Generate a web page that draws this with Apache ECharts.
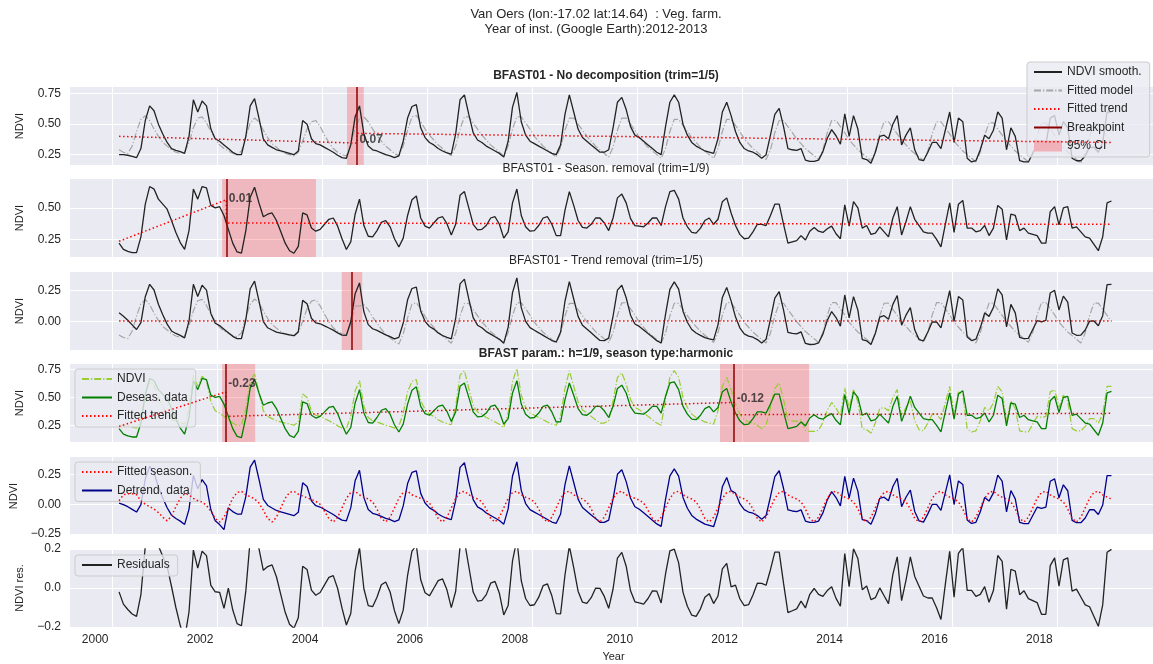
<!DOCTYPE html>
<html><head><meta charset="utf-8">
<script src="https://cdn.jsdelivr.net/npm/echarts@6/dist/echarts.min.js"></script>
<style>html,body{margin:0;padding:0;background:#fff}#c{width:1153px;height:664px}</style>
</head><body><div id="c"></div>
<script>
// ---------------- DATA ----------------
// monthly samples, first = Feb 2000 (mid-month), last = Jan 2019
const firstSample = 2000 + 1.5 / 12;
const ndvi = [
0.25,0.25,0.245,0.235,0.225,0.30,0.53,0.65,0.61,0.50,0.42,
0.35,0.30,0.285,0.275,0.26,0.40,0.70,0.60,0.69,0.65,0.46,0.38,
0.36,0.33,0.30,0.27,0.25,0.25,0.40,0.65,0.71,0.55,0.38,0.33,
0.31,0.29,0.28,0.27,0.26,0.25,0.28,0.53,0.50,0.38,0.34,0.33,
0.31,0.29,0.27,0.245,0.225,0.22,0.33,0.56,0.65,0.42,0.32,0.29,
0.28,0.265,0.25,0.24,0.225,0.24,0.36,0.55,0.645,0.66,0.47,0.39,
0.35,0.33,0.30,0.28,0.265,0.255,0.42,0.70,0.74,0.58,0.43,0.37,
0.35,0.32,0.30,0.28,0.26,0.23,0.36,0.64,0.76,0.52,0.41,0.36,
0.34,0.32,0.30,0.28,0.26,0.25,0.33,0.58,0.74,0.60,0.46,0.39,
0.36,0.33,0.30,0.27,0.27,0.29,0.47,0.68,0.72,0.62,0.48,0.41,
0.39,0.36,0.33,0.30,0.27,0.25,0.48,0.68,0.74,0.68,0.50,0.41,
0.35,0.32,0.30,0.28,0.27,0.26,0.38,0.60,0.68,0.57,0.44,0.35,
0.30,0.28,0.27,0.25,0.22,0.25,0.41,0.58,0.63,0.48,0.30,0.29,
0.285,0.30,0.205,0.195,0.195,0.205,0.275,0.385,0.455,0.405,0.335,0.585,
0.40,0.57,0.46,0.22,0.21,0.18,0.27,0.40,0.41,0.38,0.50,0.57,
0.33,0.41,0.47,0.29,0.21,0.20,0.27,0.35,0.35,0.30,0.45,0.60,
0.35,0.55,0.52,0.22,0.19,0.20,0.29,0.41,0.38,0.45,0.60,0.55,
0.29,0.47,0.40,0.20,0.19,0.19,0.26,0.33,0.32,0.33,0.55,0.57,
0.41,0.52,0.47,0.22,0.20,0.20,0.24,0.31,0.31,0.27,0.35,0.60,
0.60];
const fittedSeason = [
0.03,0.08,0.09,0.09,0.08,0.03,0.0,-0.02,-0.04,-0.07,-0.11,
-0.14,-0.10,-0.02,0.05,0.09,0.08,0.05,0.03,0.02,-0.01,-0.06,-0.12,
-0.15,-0.11,-0.03,0.05,0.10,0.11,0.08,0.065,0.045,0.01,-0.05,-0.12,
-0.15,-0.11,-0.03,0.05,0.10,0.11,0.085,0.07,0.055,0.04,0.025,0.0,
-0.06,-0.12,-0.15,-0.11,-0.03,0.05,0.10,0.11,0.08,0.06,0.045,0.02,
-0.04,-0.12,-0.15,-0.11,-0.03,0.05,0.10,0.11,0.08,0.065,0.05,0.035,
0.01,-0.05,-0.12,-0.15,-0.11,-0.03,0.05,0.10,0.11,0.08,0.06,0.045,
0.02,-0.04,-0.12,-0.15,-0.11,-0.03,0.05,0.10,0.11,0.08,0.06,0.045,
0.02,-0.04,-0.12,-0.15,-0.11,-0.03,0.05,0.10,0.11,0.08,0.06,0.045,
0.02,-0.04,-0.12,-0.15,-0.11,-0.03,0.05,0.10,0.11,0.08,0.065,0.05,
0.035,0.01,-0.05,-0.12,-0.15,-0.11,-0.03,0.05,0.10,0.11,0.08,0.06,
0.045,0.02,-0.04,-0.12,-0.15,-0.11,-0.03,0.05,0.10,0.11,0.08,0.06,
0.045,0.02,-0.04,-0.12,-0.15,-0.11,-0.03,0.05,0.10,0.11,0.08,0.06,
0.045,0.02,-0.04,-0.12,-0.15,-0.11,-0.03,0.05,0.10,0.11,0.08,0.06,
0.045,0.02,-0.04,-0.12,-0.15,-0.11,-0.03,0.05,0.10,0.11,0.08,0.06,
0.045,0.02,-0.04,-0.12,-0.15,-0.11,-0.03,0.05,0.10,0.11,0.08,0.06,
0.045,0.02,-0.04,-0.12,-0.15,-0.11,-0.03,0.05,0.10,0.11,0.08,0.06,
0.045,0.02,-0.04,-0.12,-0.15,-0.11,-0.03,0.05,0.10,0.11,0.08,0.06,
0.045,0.02,-0.04,-0.12,-0.15,-0.11,-0.03,0.05,0.10,0.11,0.08,0.06,
0.045];
const fittedModel = [
0.29,0.27,0.26,0.32,0.44,0.54,0.57,0.53,0.46,0.40,0.35,
0.32,0.29,0.27,0.26,0.27,0.35,0.47,0.55,0.56,0.51,0.44,0.38,
0.33,0.30,0.28,0.26,0.25,0.28,0.40,0.51,0.55,0.52,0.45,0.39,
0.34,0.31,0.28,0.26,0.25,0.24,0.27,0.36,0.46,0.52,0.53,0.48,
0.41,0.35,0.30,0.27,0.25,0.24,0.33,0.47,0.55,0.56,0.52,0.46,
0.41,0.36,0.32,0.29,0.26,0.24,0.32,0.45,0.56,0.57,0.52,0.46,
0.41,0.37,0.33,0.30,0.27,0.24,0.32,0.46,0.56,0.56,0.51,0.46,
0.41,0.37,0.33,0.30,0.27,0.24,0.32,0.46,0.56,0.56,0.51,0.46,
0.40,0.36,0.32,0.29,0.26,0.23,0.31,0.45,0.55,0.55,0.50,0.45,
0.40,0.36,0.32,0.29,0.26,0.23,0.31,0.45,0.55,0.55,0.50,0.45,
0.39,0.35,0.31,0.28,0.25,0.22,0.30,0.44,0.54,0.54,0.49,0.44,
0.39,0.35,0.31,0.28,0.25,0.22,0.30,0.44,0.54,0.54,0.49,0.44,
0.38,0.34,0.30,0.27,0.24,0.21,0.29,0.43,0.53,0.53,0.48,0.43,
0.38,0.34,0.30,0.27,0.24,0.21,0.29,0.43,0.53,0.53,0.48,0.43,
0.37,0.33,0.29,0.26,0.23,0.20,0.28,0.42,0.52,0.52,0.47,0.42,
0.37,0.33,0.29,0.26,0.23,0.20,0.28,0.42,0.52,0.52,0.47,0.42,
0.36,0.32,0.28,0.25,0.22,0.19,0.27,0.41,0.51,0.51,0.46,0.41,
0.36,0.32,0.28,0.25,0.22,0.19,0.27,0.41,0.51,0.51,0.46,0.41,
0.35,0.31,0.27,0.24,0.21,0.18,0.26,0.40,0.50,0.50,0.45,0.40,
0.35];
// fitted trends (piece-wise linear, [year, value])
const trendNoDecomp = [[2000.125,0.40],[2004.66,0.345],[2004.66,0.425],[2019.042,0.35]];
const trendSeasRemoval = [[2000.125,0.235],[2002.17,0.565],[2002.17,0.38],[2019.042,0.37]];
const trendTrendRemoval = [[2000.125,0.005],[2019.042,0.005]];
const trendBfast = [[2000.125,0.24],[2002.16,0.55],[2002.16,0.33],[2011.85,0.455],[2011.85,0.345],[2019.042,0.357]];
const removedLevel = [[2000.125,0.18],[2000.46,0.29],[2000.71,0.35],[2001.5,0.40],[2003,0.38],[2004.5,0.33],[2006,0.39],[2008,0.41],[2010,0.43],[2012,0.40],[2014,0.37],[2016,0.35],[2019.05,0.30]];
// breakpoints [year, ciFrom, ciTo, label, labelY]
const bpNoDecomp = [2004.66, 2004.47, 2004.79, '0.07', 0.373];
const bpSeasRemoval = [2002.17, 2002.09, 2003.88, '0.01', 0.575];
const bpTrendRemoval = [2004.56, 2004.37, 2004.76, '', 0];
const bpBfast = [[2002.16, 2002.09, 2002.72, '-0.23', 0.62], [2011.85, 2011.58, 2013.28, '-0.12', 0.485]];
const xTickYears = [2000,2002,2004,2006,2008,2010,2012,2014,2016,2018];
const yTickValues = [[0.25,0.5,0.75],[0.25,0.5],[0,0.25],[0.25,0.5,0.75],[-0.25,0,0.25],[-0.2,0,0.2]];
const yRanges = [[0.165,0.805],[0.11,0.73],[-0.23,0.40],[0.10,0.80],[-0.26,0.40],[-0.2,0.2]];
const yNames = ['NDVI','NDVI','NDVI','NDVI','NDVI','NDVI res.'];
const panelTitles = [
  ['BFAST01 - No decomposition (trim=1/5)', 'bold', 70],
  ['BFAST01 - Season. removal (trim=1/9)', 'normal', 163],
  ['BFAST01 - Trend removal (trim=1/5)', 'normal', 255],
  ['BFAST param.: h=1/9, season type:harmonic', 'bold', 348]];

// ---------------- DERIVED ----------------
const dates = ndvi.map((_, i) => +(firstSample + i / 12).toFixed(4));
function lineAt(knots, t) {
  for (let k = 0; k < knots.length - 1; k++) {
    const [x0, y0] = knots[k], [x1, y1] = knots[k + 1];
    if (x1 === x0) continue;
    if (t >= x0 && t <= x1) return y0 + (y1 - y0) * (t - x0) / (x1 - x0);
  }
  return t < knots[0][0] ? knots[0][1] : knots[knots.length - 1][1];
}
const pairs = arr => arr.map((v, i) => [dates[i], +v.toFixed(4)]);
const deseas = ndvi.map((v, i) => v - fittedSeason[i]);
const detrendBfast = ndvi.map((v, i) => v - lineAt(trendBfast, dates[i]));
const residuals = detrendBfast.map((v, i) => v - fittedSeason[i]);
const trendRemovedNdvi = ndvi.map((v, i) => v - lineAt(removedLevel, dates[i]));
const trendRemovedModel = fittedModel.map((v, i) => v - lineAt(trendNoDecomp, dates[i]));

// ---------------- STYLE ----------------
const TXT = '#262626';
const FONT = '"Liberation Sans", Arial, sans-serif';
const GRID_TOPS = [87, 179, 272, 364, 457, 549];
const GRID_H = 78;
const X_MIN = 1999.19, X_MAX = 2019.91;
const DASHDOT = [7, 2, 1.2, 2];
const DOT = [1.5, 2.5];
const RED = '#ff0000', DARKRED = '#8b0000', CI = 'rgba(255,0,0,0.21)';

const grids = GRID_TOPS.map(t => ({left: 70, right: -4, top: t, height: GRID_H, show: true,
  backgroundColor: '#EAEAF2', borderWidth: 0, containLabel: false, outerBoundsMode: 'none'}));
const xAxes = GRID_TOPS.map((_, i) => ({
  type: 'value', gridIndex: i, min: X_MIN, max: X_MAX,
  axisLine: {show: false}, axisTick: {show: false, customValues: xTickYears},
  splitLine: {show: true, lineStyle: {color: '#ffffff', width: 1}},
  axisLabel: i === 5 ? {show: true, customValues: xTickYears, color: TXT, fontFamily: FONT, fontSize: 12,
      align: 'right', padding: [0, 4, 0, 0], margin: 7, formatter: v => String(Math.round(v))} : {show: false},
  name: i === 5 ? 'Year' : '', nameLocation: 'middle', nameGap: 24,
  nameTextStyle: {color: TXT, fontFamily: FONT, fontSize: 11}
}));
const yAxes = GRID_TOPS.map((_, i) => ({
  type: 'value', gridIndex: i, min: yRanges[i][0], max: yRanges[i][1],
  axisLine: {show: false}, axisTick: {show: false, customValues: yTickValues[i]},
  splitLine: {show: true, lineStyle: {color: '#ffffff', width: 1}},
  axisLabel: {show: true, customValues: yTickValues[i], color: TXT, fontFamily: FONT, fontSize: 12, margin: 9,
    formatter: v => (i === 5 ? v.toFixed(1) : v.toFixed(2)).replace('-', '\u2212')},
  name: yNames[i], nameLocation: 'middle', nameGap: 45, nameRotate: 90,
  nameTextStyle: {color: TXT, fontFamily: FONT, fontSize: 11}
}));

function line(name, g, data, color, width, type, z) {
  return {type: 'line', name, xAxisIndex: g, yAxisIndex: g, data, symbol: 'none', showSymbol: false,
    lineStyle: {color, width, type}, itemStyle: {color}, z, silent: true, animation: false};
}
function ciSeries(name, g, ranges) {
  return {type: 'line', name, xAxisIndex: g, yAxisIndex: g, data: [], symbol: 'none', z: 1, silent: true,
    itemStyle: {color: CI}, lineStyle: {color: CI},
    markArea: {silent: true, itemStyle: {color: CI}, data: ranges.map(r => [{xAxis: r[0]}, {xAxis: r[1]}])}};
}
function bpSeries(name, g, xs) {
  return {type: 'line', name, xAxisIndex: g, yAxisIndex: g, data: [], symbol: 'none', z: 6, silent: true,
    itemStyle: {color: DARKRED}, lineStyle: {color: DARKRED, width: 1.5},
    markLine: {silent: true, symbol: ['none', 'none'], label: {show: false},
      lineStyle: {color: DARKRED, width: 1.5, type: 'solid'}, data: xs.map(x => ({xAxis: x}))}};
}
function labelSeries(g, items) {
  return {type: 'scatter', xAxisIndex: g, yAxisIndex: g, symbolSize: 1, z: 10, silent: true,
    itemStyle: {color: 'rgba(0,0,0,0)'},
    data: items.map(it => ({value: [it[0], it[4]], label: {formatter: it[3]}})),
    label: {show: true, position: 'right', distance: 2, color: TXT, fontFamily: FONT, fontSize: 12, fontWeight: 'bold'}};
}

const series = [
  // panel 1
  ciSeries('95% CI', 0, [[bpNoDecomp[1], bpNoDecomp[2]]]),
  line('Fitted model', 0, pairs(fittedModel), '#a6a6a6', 1.2, DASHDOT, 2),
  line('NDVI smooth.', 0, pairs(ndvi), '#222222', 1.3, 'solid', 3),
  line('Fitted trend', 0, trendNoDecomp, RED, 1.5, DOT, 4),
  bpSeries('Breakpoint', 0, [bpNoDecomp[0]]),
  labelSeries(0, [bpNoDecomp]),
  // panel 2
  ciSeries('ci2', 1, [[bpSeasRemoval[1], bpSeasRemoval[2]]]),
  line('seas removed', 1, pairs(deseas), '#222222', 1.3, 'solid', 3),
  line('trend2', 1, trendSeasRemoval, RED, 1.5, DOT, 4),
  bpSeries('bp2', 1, [bpSeasRemoval[0]]),
  labelSeries(1, [bpSeasRemoval]),
  // panel 3
  ciSeries('ci3', 2, [[bpTrendRemoval[1], bpTrendRemoval[2]]]),
  line('model3', 2, pairs(trendRemovedModel), '#a6a6a6', 1.2, DASHDOT, 2),
  line('ndvi3', 2, pairs(trendRemovedNdvi), '#222222', 1.3, 'solid', 3),
  line('trend3', 2, trendTrendRemoval, RED, 1.5, DOT, 4),
  bpSeries('bp3', 2, [bpTrendRemoval[0]]),
  // panel 4
  ciSeries('ci4', 3, bpBfast.map(b => [b[1], b[2]])),
  line('NDVI', 3, pairs(ndvi), '#9acd32', 1.2, DASHDOT, 2),
  line('Deseas. data', 3, pairs(deseas), '#008000', 1.3, 'solid', 3),
  line('Fitted trend', 3, trendBfast, RED, 1.5, DOT, 4),
  bpSeries('bp4', 3, bpBfast.map(b => b[0])),
  labelSeries(3, bpBfast),
  // panel 5
  line('Fitted season.', 4, pairs(fittedSeason), RED, 1.5, DOT, 4),
  line('Detrend. data', 4, pairs(detrendBfast), '#00008b', 1.3, 'solid', 3),
  // panel 6
  line('Residuals', 5, pairs(residuals), '#222222', 1.3, 'solid', 3)
];

const lineItem = n => ({name: n, itemStyle: {opacity: 0}});
function legend(left, top, items, padL, iw) {
  return {show: true, orient: 'vertical', left, top, itemWidth: iw, itemHeight: 11, itemGap: 6.5,
    padding: [4, 8, 5, padL], backgroundColor: 'rgba(234,234,242,0.8)', borderColor: '#cccccc',
    borderWidth: 1, borderRadius: 3, selectedMode: false,
    textStyle: {color: TXT, fontFamily: FONT, fontSize: 12}, data: items};
}
const ciLegendItem = {name: '95% CI', icon: 'rect', itemStyle: {color: '#f0b2b8', opacity: 1}};

const titles = [{text: 'Van Oers (lon:-17.02 lat:14.64)  : Veg. farm.\nYear of inst. (Google Earth):2012-2013',
  left: 596, top: 7, textAlign: 'center', padding: 0,
  textStyle: {color: TXT, fontFamily: FONT, fontSize: 13, fontWeight: 'normal', lineHeight: 15}}]
  .concat(panelTitles.map(p => ({text: p[0], left: 606, top: p[2], textAlign: 'center', padding: 0,
    textStyle: {color: TXT, fontFamily: FONT, fontSize: 12, fontWeight: p[1]}})));

const chart = echarts.init(document.getElementById('c'), null, {renderer: 'canvas'});
chart.setOption({
  animation: false,
  backgroundColor: '#ffffff',
  title: titles,
  grid: grids, xAxis: xAxes, yAxis: yAxes,
  legend: [
    legend(1027, 62, ['NDVI smooth.', 'Fitted model', 'Fitted trend', 'Breakpoint'].map(lineItem).concat([ciLegendItem]), 6, 28),
    legend(75, 369, ['NDVI', 'Deseas. data', 'Fitted trend'].map(lineItem), 6, 30),
    legend(75, 462, ['Fitted season.', 'Detrend. data'].map(lineItem), 6, 30),
    legend(75, 555, ['Residuals'].map(lineItem), 6, 30)
  ],
  series
});
</script></body></html>
